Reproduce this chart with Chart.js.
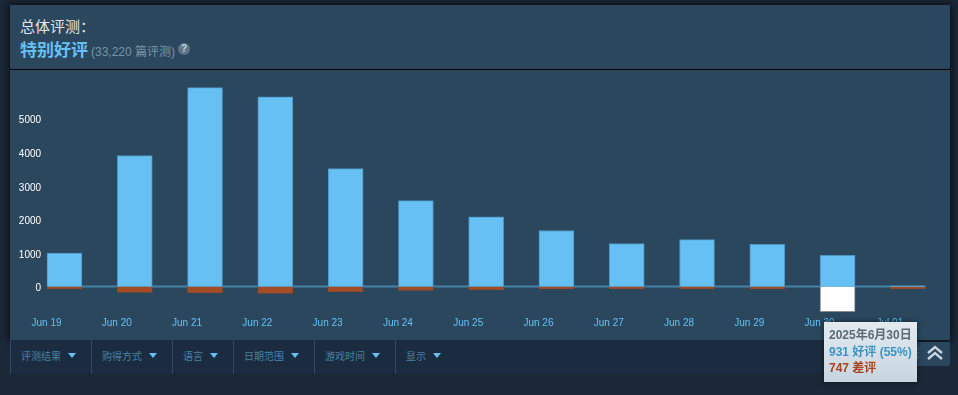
<!DOCTYPE html>
<html>
<head>
<meta charset="utf-8">
<script src="https://cdn.jsdelivr.net/npm/chart.js@4"></script>
<style>
html, body { margin: 0; padding: 0; }
body {
    width: 958px; height: 395px; position: relative; overflow: hidden;
    background: #1b2838;
    font-family: "Liberation Sans", "Noto Sans CJK SC", sans-serif;
}
#panel {
    position: absolute; left: 10px; top: 5px; width: 940px; height: 335px;
    background: #2a475e; box-shadow: 0 0 8px #000;
}
#header { height: 64px; border-bottom: 1px solid #000; position: relative; }
#title { position: absolute; left: 10px; top: 10px; font-size: 15px; color: #e5e5e5; }
#rating { position: absolute; left: 10px; top: 31px; font-size: 17px; font-weight: bold; color: #66c0f4; }
#count { position: absolute; left: 81px; top: 37px; font-size: 12px; color: #7b93a6; }
#help {
    position: absolute; left: 168px; top: 38px; width: 12px; height: 12px; border-radius: 6px;
    background: #5f7488; color: #c6d4df; font-size: 10px; font-weight: bold; text-align: center; line-height: 12px;
}
#chart { position: absolute; left: 10px; top: 70px; }
#filters {
    position: absolute; left: 10px; top: 340px; width: 908px; height: 34px;
    background: #1c2c40; display: flex;
}
.filter {
    box-sizing: border-box; height: 34px; border-left: 1px solid #2f4a66; padding-left: 10px;
    font-size: 10px; line-height: 34px; color: #4582a5; position: relative;
}
.filter i {
    display: inline-block; margin-left: 7px; vertical-align: 2px; width: 0; height: 0;
    border-left: 4px solid transparent; border-right: 4px solid transparent; border-top: 5px solid #66c0f4;
}
#toggle {
    position: absolute; left: 860px; top: 342px; width: 90px; height: 24px; background: #2a475e;
    border-radius: 0 0 3px 0;
}
#toggle span {
    position: absolute; right: 30px; top: 0; font-size: 12px; line-height: 24px; color: #4582a5; white-space: nowrap;
}
#toggle svg { position: absolute; right: 7px; top: 3px; }
#tip {
    position: absolute; left: 824px; top: 322px; width: 93px; height: 60px; box-sizing: border-box;
    padding: 5px 5px; background: linear-gradient(to bottom, #e3eaef, #c7d5e0);
    box-shadow: 0 0 5px rgba(0,0,0,.6); font-size: 12px; line-height: 16.5px; font-weight: bold; white-space: nowrap;
}
#tipDate { color: #5b6a78; }
#tipUp { color: #3e93c2; }
#tipDown { color: #a8431c; }
</style>
</head>
<body>
<div id="panel">
    <div id="header">
        <div id="title">总体评测：</div>
        <div id="rating">特别好评</div>
        <div id="count">(33,220 篇评测)</div>
        <div id="help">?</div>
    </div>
</div>
<canvas id="chart" width="940" height="270"></canvas>
<div id="filters"></div>
<div id="toggle">
    <span>隐藏图表</span>
    <svg width="16" height="16" viewBox="0 0 16 16" fill="none" stroke="#c6d4df" stroke-width="2.4">
        <path d="M1 8 L8 2 L15 8"/><path d="M1 14 L8 8 L15 14"/>
    </svg>
</div>
<div id="tip">
    <div id="tipDate"></div>
    <div id="tipUp"></div>
    <div id="tipDown"></div>
</div>
<script>
const days = ['Jun 19', 'Jun 20', 'Jun 21', 'Jun 22', 'Jun 23', 'Jun 24', 'Jun 25', 'Jun 26', 'Jun 27', 'Jun 28', 'Jun 29', 'Jun 30', 'Jul 01'];
const positive = [1000, 3900, 5920, 5650, 3510, 2560, 2080, 1670, 1280, 1400, 1260, 931, 20];
const negative = [-60, -170, -190, -200, -150, -110, -90, -70, -60, -60, -70, -747, -60];
const yTicks = [0, 1000, 2000, 3000, 4000, 5000];
const filterNames = ['评测结果', '购得方式', '语言', '日期范围', '游戏时间', '显示'];
const filterWidths = [81, 81, 61, 81, 81, 81];
const hovered = 11;
const hoveredDate = '2025年6月30日';

const filters = document.getElementById('filters');
filterNames.forEach((name, i) => {
    const cell = document.createElement('div');
    cell.className = 'filter';
    cell.style.width = filterWidths[i] + 'px';
    cell.innerHTML = `${name}<i></i>`;
    filters.appendChild(cell);
});

const up = positive[hovered];
const down = -negative[hovered];
document.getElementById('tipDate').textContent = hoveredDate;
document.getElementById('tipUp').textContent = `${up} 好评 (${Math.round(up * 100 / (up + down))}%)`;
document.getElementById('tipDown').textContent = `${down} 差评`;

// baseline only runs from the first bar's left edge to the last bar's right edge
const zeroLine = {
    id: 'zeroLine',
    beforeDatasetsDraw(chart) {
        const bars = chart.getDatasetMeta(0).data;
        const y = chart.scales.y.getPixelForValue(0);
        const c = chart.ctx;
        c.save();
        c.strokeStyle = '#4582a5';
        c.lineWidth = 2;
        c.beginPath();
        c.moveTo(bars[0].x - 17.5, y);
        c.lineTo(bars[bars.length - 1].x + 17.5, y);
        c.stroke();
        c.restore();
    }
};

new Chart(document.getElementById('chart').getContext('2d'), {
    type: 'bar',
    plugins: [zeroLine],
    data: {
        labels: days,
        datasets: [{
            data: positive,
            backgroundColor: '#66c0f4',
            borderColor: '#4f93c0',
            borderWidth: 1,
            barThickness: 35
        }, {
            data: negative,
            backgroundColor: ctx => ctx.dataIndex === hovered ? '#ffffff' : '#a34c25',
            borderColor: ctx => ctx.dataIndex === hovered ? '#8a8a8a' : '#8f4a2a',
            borderWidth: 1,
            barThickness: 35
        }]
    },
    options: {
        responsive: false,
        animation: false,
        layout: { padding: { top: 15, right: 7, bottom: 0, left: 0 } },
        plugins: { legend: { display: false }, tooltip: { enabled: false } },
        scales: {
            x: {
                stacked: true,
                afterFit(scale) { scale.height = 26.5; },
                grid: { display: false, drawTicks: false },
                border: { display: false },
                ticks: {
                    color: '#66c0f4',
                    font: { family: 'Liberation Sans', size: 10 },
                    labelOffset: -18,
                    padding: 4,
                    autoSkip: false,
                    maxRotation: 0
                }
            },
            y: {
                stacked: true,
                min: -800,
                max: 6000,
                afterFit(scale) { scale.width = 19.35; },
                afterBuildTicks(scale) { scale.ticks = yTicks.map(v => ({ value: v })); },
                grid: { display: false, drawTicks: false },
                border: { display: false },
                ticks: {
                    color: '#ffffff',
                    mirror: true,
                    crossAlign: 'far',
                    padding: -10.5,
                    labelOffset: 2,
                    font: { family: 'Liberation Sans', size: 10 },
                    callback: v => String(v)
                }
            }
        }
    }
});
</script>
</body>
</html>
